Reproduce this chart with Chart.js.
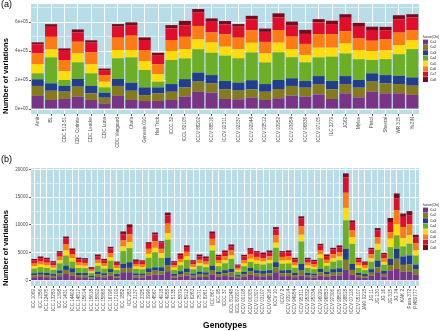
<!DOCTYPE html>
<html>
<head>
<meta charset="utf-8">
<script src="https://cdn.jsdelivr.net/npm/chart.js@4.4.1/dist/chart.umd.min.js"></script>
<style>
  html, body { margin: 0; padding: 0; background: #fff; }
  #wrap { position: relative; width: 440px; height: 331px; }
  .box { position: absolute; left: 0; width: 440px; }
  #boxA { top: 0; height: 155px; }
  #boxB { top: 155px; height: 176px; }
</style>
</head>
<body>
<div id="wrap">
  <div class="box" id="boxA"><canvas id="chartA"></canvas></div>
  <div class="box" id="boxB"><canvas id="chartB"></canvas></div>
</div>
<script>
// chromozomy (factor(Chr)) a jejich barvy
const chromosomes = ['Ca1', 'Ca2', 'Ca3', 'Ca4', 'Ca5', 'Ca6', 'Ca7', 'Ca8'];
const chrColors = ['#7A3485', '#857A1E', '#233C8C', '#6CAE25', '#FFDC0A', '#FF7C14', '#E10E2B', '#7A0A1E'];
const legendTitle = 'factor(Chr)';

// ── (a) vyšlechtěné linie ──
const genotypesA = ['Amit', 'BL', 'CDC 512-51', 'CDC Corinne', 'CDC Leader', 'CDC Luna', 'CDC Vanguard', 'Chafa',
  'Genesis 090', 'Hat Trick', 'ICCC 32', 'ICCL 82105', 'ICCV 88202', 'ICCV 88516', 'ICCV 92311', 'ICCV 92337',
  'ICCV 92944', 'ICCV 93512', 'ICCV 93952', 'ICCV 93954', 'ICCV 96836', 'ICCV 97105', 'ILC 3279', 'JG62',
  'Myles', 'Pistol', 'Sheetal', 'WR 315', 'YeZIN'];
const aCa1 = [90000,62000,69000,85000,62000,39000,90000,62000,55000,55000,62000,85000,120000,113000,69000,67000,78000,62000,74000,92000,85000,101000,69000,108000,80000,120000,108000,108000,97000];
const aCa2 = [69000,64000,51000,69000,46000,39000,69000,64000,41000,53000,57000,64000,69000,64000,67000,60000,57000,57000,64000,67000,62000,71000,67000,64000,67000,69000,69000,64000,64000];
const aCa3 = [46000,51000,39000,53000,51000,34000,48000,55000,53000,41000,53000,57000,62000,57000,57000,55000,64000,53000,62000,53000,46000,55000,57000,55000,53000,57000,57000,57000,57000];
const aCa4 = [41000,179000,41000,115000,87000,37000,143000,175000,120000,39000,166000,143000,161000,154000,175000,168000,191000,149000,191000,145000,129000,129000,168000,156000,143000,92000,110000,149000,195000];
const aCa5 = [64000,55000,62000,62000,62000,39000,57000,51000,62000,53000,62000,64000,69000,71000,62000,62000,67000,62000,67000,57000,51000,67000,62000,69000,64000,62000,62000,62000,62000];
const aCa6 = [74000,87000,76000,80000,83000,46000,85000,99000,76000,69000,76000,85000,92000,69000,85000,80000,87000,80000,87000,85000,76000,94000,94000,85000,80000,71000,74000,87000,69000];
const aCa7 = [62000,69000,69000,64000,67000,34000,76000,69000,69000,62000,80000,80000,92000,74000,69000,76000,74000,69000,87000,76000,69000,80000,69000,92000,80000,74000,64000,92000,87000];
const aCa8 = [14000,18000,11000,21000,16000,11000,18000,23000,18000,16000,23000,30000,25000,23000,23000,18000,25000,23000,28000,28000,28000,23000,23000,25000,28000,23000,23000,28000,23000];
const aYTicks = [0, 100000, 200000, 300000, 400000, 500000, 600000, 700000];
const aYMajor = [0, 200000, 400000, 600000];
const aYLabels = ['0e+00', '2e+05', '4e+05', '6e+05'];

// ── (b) genetické zdroje ──
const genotypesB = ['ICC 1069','ICC 1356','ICC 12475','ICC 13283','ICC 1398','ICC 1431','ICC 14402','ICC 14817','ICC 15614','ICC 15618',
  'ICC 15802','ICC 15868','ICC 16796','ICC 17109','ICC 1882','ICC 283','ICC 3137','ICC 3325','ICC 3996','ICC 4567',
  'ICC 4918','ICC 4958','ICC 5135','ICC 5879','ICC 5912','ICC 6263','ICC 7571','ICC 8261','ICC 867','ICC 95',
  'ICCC 37','ICCL 81248','ICCL 87207','ICCV 00108','ICCV 00305','ICCV 01307','ICCV 03107','ICCV 04516','ICCV 10','ICCV 2',
  'ICCV 93914','ICCV 94954','ICCV 95311','ICCV 95332','ICCV 95334','ICCV 96029','ICCV 96853','ICCV 97306','ICCV 98505','ICCV 98818',
  'ICCV 07118','ICCV 05107','JAKI 9218','JG 11','JG 130','JG 16','JG 315','JG 74','KAK 2','Pusa 372','PI489777'];
const bCa1 = [600,660,620,540,800,1200,900,620,600,380,700,580,900,520,1510,1510,580,560,900,1080,1080,1690,540,740,900,560,700,660,1080,700,820,720,440,700,1040,800,760,820,1510,800,820,620,900,620,560,900,700,880,940,1930,1080,620,520,880,1510,760,1810,2110,1630,1630,1080];
const bCa2 = [360,400,380,320,480,720,540,380,380,240,440,360,560,320,720,780,360,340,600,720,600,1020,320,440,560,340,440,400,720,420,500,780,270,420,600,500,460,500,900,500,500,380,900,380,340,600,440,540,580,1810,840,380,320,540,900,460,900,1810,1200,1270,900];
const bCa3 = [360,400,380,320,560,780,780,400,380,240,460,380,620,340,780,1020,360,340,720,600,720,1390,340,520,720,340,460,420,900,460,560,600,280,460,660,560,540,560,900,560,580,400,1200,400,360,600,460,640,700,1990,1080,400,340,640,1200,520,1200,1810,1510,1630,900];
const bCa4 = [840,960,900,760,1260,1810,1200,900,880,520,1060,840,1500,720,2290,2530,820,800,1870,2710,1690,3250,740,1060,1560,800,1060,940,2710,1020,1240,1810,620,1020,1080,1180,1120,1240,2590,1180,1200,900,4040,880,800,1930,1060,1340,1440,5120,3610,880,720,1340,1930,1100,2110,2410,1810,2110,1630];
const bCa5 = [420,460,440,380,540,900,600,440,440,260,500,420,620,380,840,1080,400,380,720,780,840,1200,380,520,660,400,500,460,900,500,560,600,310,500,540,560,540,560,900,560,580,440,1200,440,400,660,500,620,660,2230,1200,440,380,620,1080,520,1510,1930,1510,1510,900];
const bCa6 = [480,540,500,440,660,1080,760,520,500,320,580,500,720,440,1080,1390,480,460,900,1200,780,1690,440,620,780,460,580,540,1200,580,680,900,370,580,780,660,640,680,1330,660,680,500,1510,520,480,720,580,740,800,2710,1200,520,440,740,1200,640,1200,2590,1990,1990,1330];
const bCa7 = [540,620,600,500,720,1140,720,600,580,340,660,540,840,480,1080,1330,540,520,900,1200,1140,1510,500,700,860,520,660,620,900,660,760,720,410,660,840,760,720,760,1080,760,760,580,1390,580,540,900,660,840,900,2770,1390,580,480,840,1200,720,1810,2110,1810,1630,1080];
const bCa8 = [300,300,280,240,280,300,280,280,280,170,300,280,320,230,540,480,260,250,300,360,240,480,240,280,300,250,300,300,420,300,300,360,190,300,300,280,280,300,420,280,300,280,420,280,250,300,300,300,310,720,420,280,230,300,420,280,720,900,600,720,420];
const bYTicks = [0, 2500, 5000, 7500, 10000, 12500, 15000, 17500, 20000];
const bYMajor = [0, 5000, 10000, 15000, 20000];
const bYLabels = ['0', '5000', '10000', '15000', '20000'];

const FONT = '"Liberation Sans", Arial, sans-serif';
const PANEL_BG = '#B8DCE8';

// pozadí panelu + písmeno panelu
const panelBg = {
    id: 'panelBg',
    beforeDraw(chart, args, opts) {
        const { ctx, chartArea: a } = chart;
        ctx.save();
        ctx.fillStyle = PANEL_BG;
        ctx.fillRect(a.left, a.top, a.right - a.left, a.bottom - a.top);
        ctx.fillStyle = '#000';
        ctx.font = '9px ' + FONT;
        ctx.textBaseline = 'top';
        ctx.fillText(opts.tag, 1, opts.tagY);
        ctx.restore();
    },
};

// legenda vpravo od panelu, svisle na střed
const chrLegend = {
    id: 'chrLegend',
    afterDraw(chart) {
        const { ctx, chartArea: a } = chart;
        const x = a.right + 4;
        const key = 5.35;
        const n = chart.data.datasets.length;
        let y = (a.top + a.bottom) / 2 - (4 + key * n) / 2;
        ctx.save();
        ctx.font = '3.4px ' + FONT;
        ctx.textBaseline = 'middle';
        ctx.fillStyle = '#222';
        ctx.fillText(legendTitle, x, y + 1.6);
        y += 4;
        chart.data.datasets.forEach(function (ds) {
            ctx.fillStyle = ds.backgroundColor;
            ctx.fillRect(x, y, 5, 5);
            ctx.fillStyle = '#222';
            ctx.fillText(ds.label, x + 7, y + 2.6);
            y += key;
        });
        ctx.restore();
    },
};

function makePanel(canvasId, p) {
    const datasets = chromosomes.map((c, i) => ({
        label: c,
        data: p.series[i],
        backgroundColor: chrColors[i],
        borderWidth: 0,
        barPercentage: 0.9,
        categoryPercentage: 1,
    }));
    return new Chart(document.getElementById(canvasId), {
        type: 'bar',
        data: { labels: p.labels, datasets },
        plugins: [panelBg, chrLegend],
        options: {
            responsive: true,
            maintainAspectRatio: false,
            animation: false,
            devicePixelRatio: 1,
            layout: { padding: { left: 0, right: 21, top: p.top, bottom: 0 } },
            plugins: {
                legend: { display: false },
                tooltip: { enabled: false },
                panelBg: { tag: p.tag, tagY: p.tagY },
            },
            scales: {
                x: {
                    stacked: true,
                    border: { display: false },
                    grid: { offset: false, color: '#fff', lineWidth: 1, drawTicks: true, tickLength: 2, tickColor: '#555' },
                    ticks: {
                        autoSkip: false, minRotation: 90, maxRotation: 90, padding: 1,
                        color: '#4D4D4D', font: { family: FONT, size: 4.6 },
                    },
                    title: {
                        display: !!p.xTitle, text: p.xTitle || '', color: '#000',
                        font: { family: FONT, size: 8.5, weight: 'bold' }, padding: { top: 0, bottom: 0 },
                    },
                    afterFit: (s) => { s.height = p.xHeight; },
                },
                y: {
                    stacked: true,
                    min: p.yMin,
                    max: p.yMax,
                    border: { display: false },
                    afterBuildTicks: (s) => { s.ticks = p.yTicks.map((v) => ({ value: v })); },
                    grid: {
                        color: '#fff',
                        lineWidth: (ctx) => (ctx.tick && p.yMajor.includes(ctx.tick.value) ? 1 : 0.5),
                        tickLength: 2,
                        tickColor: (ctx) => (ctx.tick && p.yMajor.includes(ctx.tick.value) ? '#555' : 'rgba(0,0,0,0)'),
                    },
                    ticks: {
                        padding: 1,
                        color: '#4D4D4D',
                        font: { family: FONT, size: 4.6 },
                        callback: (v) => { const i = p.yMajor.indexOf(v); return i >= 0 ? p.yLabels[i] : ''; },
                    },
                    title: {
                        display: true, text: 'Number of variations', align: 'start', color: '#000',
                        font: { family: FONT, size: 7.6, weight: 'bold' }, padding: { top: 1.5, bottom: 0 },
                    },
                    afterFit: (s) => { s.width = 31; },
                },
            },
        },
    });
}

makePanel('chartA', {
    labels: genotypesA,
    series: [aCa1, aCa2, aCa3, aCa4, aCa5, aCa6, aCa7, aCa8],
    yMin: -34500, yMax: 724500,
    yTicks: aYTicks, yMajor: aYMajor, yLabels: aYLabels,
    top: 4, xHeight: 41, tag: '(a)', tagY: 0,
});

makePanel('chartB', {
    labels: genotypesB,
    series: [bCa1, bCa2, bCa3, bCa4, bCa5, bCa6, bCa7, bCa8],
    yMin: -964, yMax: 20244,
    yTicks: bYTicks, yMajor: bYMajor, yLabels: bYLabels,
    top: 13, xHeight: 45, tag: '(b)', tagY: 0, xTitle: 'Genotypes',
});
</script>
</body>
</html>
